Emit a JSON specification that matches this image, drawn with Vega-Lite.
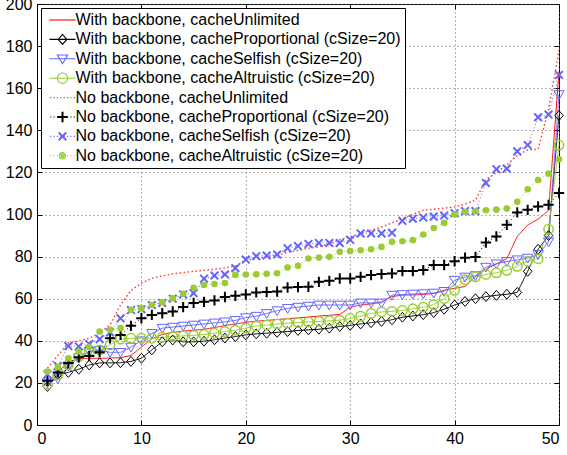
{
"$schema":"https://vega.github.io/schema/vega-lite/v6.json",
"width":522,"height":421,
"autosize":{"type":"none"},
"padding":{"left":37,"top":4,"right":8,"bottom":30},
"background":"white",
"config":{
"view":{"stroke":"black","strokeWidth":1},
"axis":{"labelFont":"Liberation Sans","labelFontSize":16,"labelColor":"black","domainColor":"black","tickColor":"black","gridColor":"#666666","gridDash":[1,3],"gridOpacity":1,"tickSize":-5,"labelPadding":10,"title":null},
"legend":{"orient":"top-left","offset":4,"padding":4,"strokeColor":"black","fillColor":"white","labelFont":"Liberation Sans","labelFontSize":16,"labelColor":"black","labelLimit":600,"symbolSize":81,"symbolStrokeWidth":1.1,"symbolOffset":9.5,"labelOffset":5,"rowPadding":3.4}
},
"data":{"values":[
{"s":"With backbone, cacheUnlimited","x":1,"y":20},{"s":"With backbone, cacheUnlimited","x":2,"y":25},{"s":"With backbone, cacheUnlimited","x":3,"y":30},{"s":"With backbone, cacheUnlimited","x":4,"y":31.5},{"s":"With backbone, cacheUnlimited","x":5,"y":31.7},{"s":"With backbone, cacheUnlimited","x":6,"y":31.7},{"s":"With backbone, cacheUnlimited","x":7,"y":31.8},{"s":"With backbone, cacheUnlimited","x":8,"y":32},{"s":"With backbone, cacheUnlimited","x":9,"y":33},{"s":"With backbone, cacheUnlimited","x":10,"y":37},
{"s":"With backbone, cacheUnlimited","x":11,"y":41},{"s":"With backbone, cacheUnlimited","x":12,"y":43},{"s":"With backbone, cacheUnlimited","x":13,"y":44},{"s":"With backbone, cacheUnlimited","x":14,"y":44.6},{"s":"With backbone, cacheUnlimited","x":15,"y":45},{"s":"With backbone, cacheUnlimited","x":16,"y":45.5},{"s":"With backbone, cacheUnlimited","x":17,"y":46.3},{"s":"With backbone, cacheUnlimited","x":18,"y":47.2},{"s":"With backbone, cacheUnlimited","x":19,"y":48},{"s":"With backbone, cacheUnlimited","x":20,"y":48.8},
{"s":"With backbone, cacheUnlimited","x":21,"y":49.3},{"s":"With backbone, cacheUnlimited","x":22,"y":49.7},{"s":"With backbone, cacheUnlimited","x":23,"y":50.1},{"s":"With backbone, cacheUnlimited","x":24,"y":50.5},{"s":"With backbone, cacheUnlimited","x":25,"y":50.9},{"s":"With backbone, cacheUnlimited","x":26,"y":51.3},{"s":"With backbone, cacheUnlimited","x":27,"y":51.7},{"s":"With backbone, cacheUnlimited","x":28,"y":52.1},{"s":"With backbone, cacheUnlimited","x":29,"y":52.5},{"s":"With backbone, cacheUnlimited","x":30,"y":56},
{"s":"With backbone, cacheUnlimited","x":31,"y":57},{"s":"With backbone, cacheUnlimited","x":32,"y":57.5},{"s":"With backbone, cacheUnlimited","x":33,"y":58.5},{"s":"With backbone, cacheUnlimited","x":34,"y":61},{"s":"With backbone, cacheUnlimited","x":35,"y":61.7},{"s":"With backbone, cacheUnlimited","x":36,"y":61.8},{"s":"With backbone, cacheUnlimited","x":37,"y":62},{"s":"With backbone, cacheUnlimited","x":38,"y":62.5},{"s":"With backbone, cacheUnlimited","x":39,"y":64},{"s":"With backbone, cacheUnlimited","x":40,"y":65},
{"s":"With backbone, cacheUnlimited","x":41,"y":65.8},{"s":"With backbone, cacheUnlimited","x":42,"y":70.5},{"s":"With backbone, cacheUnlimited","x":43,"y":74},{"s":"With backbone, cacheUnlimited","x":44,"y":76.5},{"s":"With backbone, cacheUnlimited","x":45,"y":79},{"s":"With backbone, cacheUnlimited","x":46,"y":89.5},{"s":"With backbone, cacheUnlimited","x":47,"y":95},{"s":"With backbone, cacheUnlimited","x":48,"y":97.8},{"s":"With backbone, cacheUnlimited","x":49,"y":102},{"s":"With backbone, cacheUnlimited","x":50,"y":168},
{"s":"With backbone, cacheProportional (cSize=20)","x":1,"y":18.3},{"s":"With backbone, cacheProportional (cSize=20)","x":2,"y":24},{"s":"With backbone, cacheProportional (cSize=20)","x":3,"y":25},{"s":"With backbone, cacheProportional (cSize=20)","x":4,"y":26.5},{"s":"With backbone, cacheProportional (cSize=20)","x":5,"y":28.5},{"s":"With backbone, cacheProportional (cSize=20)","x":6,"y":29.5},{"s":"With backbone, cacheProportional (cSize=20)","x":7,"y":29.5},{"s":"With backbone, cacheProportional (cSize=20)","x":8,"y":29.6},{"s":"With backbone, cacheProportional (cSize=20)","x":9,"y":30.2},{"s":"With backbone, cacheProportional (cSize=20)","x":10,"y":31.7},
{"s":"With backbone, cacheProportional (cSize=20)","x":11,"y":35.7},{"s":"With backbone, cacheProportional (cSize=20)","x":12,"y":39.5},{"s":"With backbone, cacheProportional (cSize=20)","x":13,"y":40.4},{"s":"With backbone, cacheProportional (cSize=20)","x":14,"y":39.5},{"s":"With backbone, cacheProportional (cSize=20)","x":15,"y":39.5},{"s":"With backbone, cacheProportional (cSize=20)","x":16,"y":39.8},{"s":"With backbone, cacheProportional (cSize=20)","x":17,"y":40.5},{"s":"With backbone, cacheProportional (cSize=20)","x":18,"y":41.3},{"s":"With backbone, cacheProportional (cSize=20)","x":19,"y":42},{"s":"With backbone, cacheProportional (cSize=20)","x":20,"y":42.8},
{"s":"With backbone, cacheProportional (cSize=20)","x":21,"y":43.3},{"s":"With backbone, cacheProportional (cSize=20)","x":22,"y":43.6},{"s":"With backbone, cacheProportional (cSize=20)","x":23,"y":44},{"s":"With backbone, cacheProportional (cSize=20)","x":24,"y":44.4},{"s":"With backbone, cacheProportional (cSize=20)","x":25,"y":44.9},{"s":"With backbone, cacheProportional (cSize=20)","x":26,"y":45.2},{"s":"With backbone, cacheProportional (cSize=20)","x":27,"y":45.5},{"s":"With backbone, cacheProportional (cSize=20)","x":28,"y":46},{"s":"With backbone, cacheProportional (cSize=20)","x":29,"y":46.8},{"s":"With backbone, cacheProportional (cSize=20)","x":30,"y":47.3},
{"s":"With backbone, cacheProportional (cSize=20)","x":31,"y":48},{"s":"With backbone, cacheProportional (cSize=20)","x":32,"y":48.6},{"s":"With backbone, cacheProportional (cSize=20)","x":33,"y":49.2},{"s":"With backbone, cacheProportional (cSize=20)","x":34,"y":50},{"s":"With backbone, cacheProportional (cSize=20)","x":35,"y":51.2},{"s":"With backbone, cacheProportional (cSize=20)","x":36,"y":51.8},{"s":"With backbone, cacheProportional (cSize=20)","x":37,"y":52.4},{"s":"With backbone, cacheProportional (cSize=20)","x":38,"y":53.4},{"s":"With backbone, cacheProportional (cSize=20)","x":39,"y":55},{"s":"With backbone, cacheProportional (cSize=20)","x":40,"y":57},
{"s":"With backbone, cacheProportional (cSize=20)","x":41,"y":58.7},{"s":"With backbone, cacheProportional (cSize=20)","x":42,"y":60},{"s":"With backbone, cacheProportional (cSize=20)","x":43,"y":61},{"s":"With backbone, cacheProportional (cSize=20)","x":44,"y":61.6},{"s":"With backbone, cacheProportional (cSize=20)","x":45,"y":62.1},{"s":"With backbone, cacheProportional (cSize=20)","x":46,"y":63},{"s":"With backbone, cacheProportional (cSize=20)","x":47,"y":73},{"s":"With backbone, cacheProportional (cSize=20)","x":48,"y":83.5},{"s":"With backbone, cacheProportional (cSize=20)","x":49,"y":90},{"s":"With backbone, cacheProportional (cSize=20)","x":50,"y":147},
{"s":"With backbone, cacheSelfish (cSize=20)","x":1,"y":20},{"s":"With backbone, cacheSelfish (cSize=20)","x":2,"y":22},{"s":"With backbone, cacheSelfish (cSize=20)","x":3,"y":28},{"s":"With backbone, cacheSelfish (cSize=20)","x":4,"y":32},{"s":"With backbone, cacheSelfish (cSize=20)","x":5,"y":35},{"s":"With backbone, cacheSelfish (cSize=20)","x":6,"y":35.5},{"s":"With backbone, cacheSelfish (cSize=20)","x":7,"y":34.5},{"s":"With backbone, cacheSelfish (cSize=20)","x":8,"y":34.5},{"s":"With backbone, cacheSelfish (cSize=20)","x":9,"y":37},{"s":"With backbone, cacheSelfish (cSize=20)","x":10,"y":40},
{"s":"With backbone, cacheSelfish (cSize=20)","x":11,"y":43.5},{"s":"With backbone, cacheSelfish (cSize=20)","x":12,"y":46},{"s":"With backbone, cacheSelfish (cSize=20)","x":13,"y":46.5},{"s":"With backbone, cacheSelfish (cSize=20)","x":14,"y":47},{"s":"With backbone, cacheSelfish (cSize=20)","x":15,"y":47.5},{"s":"With backbone, cacheSelfish (cSize=20)","x":16,"y":48},{"s":"With backbone, cacheSelfish (cSize=20)","x":17,"y":48.5},{"s":"With backbone, cacheSelfish (cSize=20)","x":18,"y":49},{"s":"With backbone, cacheSelfish (cSize=20)","x":19,"y":49.7},{"s":"With backbone, cacheSelfish (cSize=20)","x":20,"y":51},
{"s":"With backbone, cacheSelfish (cSize=20)","x":21,"y":51.7},{"s":"With backbone, cacheSelfish (cSize=20)","x":22,"y":53},{"s":"With backbone, cacheSelfish (cSize=20)","x":23,"y":54.3},{"s":"With backbone, cacheSelfish (cSize=20)","x":24,"y":55.4},{"s":"With backbone, cacheSelfish (cSize=20)","x":25,"y":56},{"s":"With backbone, cacheSelfish (cSize=20)","x":26,"y":56.5},{"s":"With backbone, cacheSelfish (cSize=20)","x":27,"y":57},{"s":"With backbone, cacheSelfish (cSize=20)","x":28,"y":57},{"s":"With backbone, cacheSelfish (cSize=20)","x":29,"y":57},{"s":"With backbone, cacheSelfish (cSize=20)","x":30,"y":57},
{"s":"With backbone, cacheSelfish (cSize=20)","x":31,"y":58},{"s":"With backbone, cacheSelfish (cSize=20)","x":32,"y":58},{"s":"With backbone, cacheSelfish (cSize=20)","x":33,"y":58},{"s":"With backbone, cacheSelfish (cSize=20)","x":34,"y":61.7},{"s":"With backbone, cacheSelfish (cSize=20)","x":35,"y":62},{"s":"With backbone, cacheSelfish (cSize=20)","x":36,"y":62.2},{"s":"With backbone, cacheSelfish (cSize=20)","x":37,"y":62.4},{"s":"With backbone, cacheSelfish (cSize=20)","x":38,"y":62.7},{"s":"With backbone, cacheSelfish (cSize=20)","x":39,"y":63.5},{"s":"With backbone, cacheSelfish (cSize=20)","x":40,"y":68.8},
{"s":"With backbone, cacheSelfish (cSize=20)","x":41,"y":70.3},{"s":"With backbone, cacheSelfish (cSize=20)","x":42,"y":71},{"s":"With backbone, cacheSelfish (cSize=20)","x":43,"y":75},{"s":"With backbone, cacheSelfish (cSize=20)","x":44,"y":76.6},{"s":"With backbone, cacheSelfish (cSize=20)","x":45,"y":77.7},{"s":"With backbone, cacheSelfish (cSize=20)","x":46,"y":78.5},{"s":"With backbone, cacheSelfish (cSize=20)","x":47,"y":79.3},{"s":"With backbone, cacheSelfish (cSize=20)","x":48,"y":81},{"s":"With backbone, cacheSelfish (cSize=20)","x":49,"y":87},{"s":"With backbone, cacheSelfish (cSize=20)","x":50,"y":157},
{"s":"With backbone, cacheAltruistic (cSize=20)","x":1,"y":19.4},{"s":"With backbone, cacheAltruistic (cSize=20)","x":2,"y":23.8},{"s":"With backbone, cacheAltruistic (cSize=20)","x":3,"y":28.6},{"s":"With backbone, cacheAltruistic (cSize=20)","x":4,"y":32.5},{"s":"With backbone, cacheAltruistic (cSize=20)","x":5,"y":34.9},{"s":"With backbone, cacheAltruistic (cSize=20)","x":6,"y":35.7},{"s":"With backbone, cacheAltruistic (cSize=20)","x":7,"y":38},{"s":"With backbone, cacheAltruistic (cSize=20)","x":8,"y":40.8},{"s":"With backbone, cacheAltruistic (cSize=20)","x":9,"y":41.2},{"s":"With backbone, cacheAltruistic (cSize=20)","x":10,"y":41.2},
{"s":"With backbone, cacheAltruistic (cSize=20)","x":11,"y":41.2},{"s":"With backbone, cacheAltruistic (cSize=20)","x":12,"y":41.7},{"s":"With backbone, cacheAltruistic (cSize=20)","x":13,"y":42},{"s":"With backbone, cacheAltruistic (cSize=20)","x":14,"y":42.3},{"s":"With backbone, cacheAltruistic (cSize=20)","x":15,"y":42.6},{"s":"With backbone, cacheAltruistic (cSize=20)","x":16,"y":43},{"s":"With backbone, cacheAltruistic (cSize=20)","x":17,"y":43.6},{"s":"With backbone, cacheAltruistic (cSize=20)","x":18,"y":44.4},{"s":"With backbone, cacheAltruistic (cSize=20)","x":19,"y":45},{"s":"With backbone, cacheAltruistic (cSize=20)","x":20,"y":46},
{"s":"With backbone, cacheAltruistic (cSize=20)","x":21,"y":47},{"s":"With backbone, cacheAltruistic (cSize=20)","x":22,"y":47.5},{"s":"With backbone, cacheAltruistic (cSize=20)","x":23,"y":48},{"s":"With backbone, cacheAltruistic (cSize=20)","x":24,"y":48.4},{"s":"With backbone, cacheAltruistic (cSize=20)","x":25,"y":48.7},{"s":"With backbone, cacheAltruistic (cSize=20)","x":26,"y":49},{"s":"With backbone, cacheAltruistic (cSize=20)","x":27,"y":49.2},{"s":"With backbone, cacheAltruistic (cSize=20)","x":28,"y":49.5},{"s":"With backbone, cacheAltruistic (cSize=20)","x":29,"y":49.8},{"s":"With backbone, cacheAltruistic (cSize=20)","x":30,"y":50.6},
{"s":"With backbone, cacheAltruistic (cSize=20)","x":31,"y":51.7},{"s":"With backbone, cacheAltruistic (cSize=20)","x":32,"y":53},{"s":"With backbone, cacheAltruistic (cSize=20)","x":33,"y":53.7},{"s":"With backbone, cacheAltruistic (cSize=20)","x":34,"y":54},{"s":"With backbone, cacheAltruistic (cSize=20)","x":35,"y":54.4},{"s":"With backbone, cacheAltruistic (cSize=20)","x":36,"y":55.2},{"s":"With backbone, cacheAltruistic (cSize=20)","x":37,"y":56},{"s":"With backbone, cacheAltruistic (cSize=20)","x":38,"y":57.2},{"s":"With backbone, cacheAltruistic (cSize=20)","x":39,"y":60},{"s":"With backbone, cacheAltruistic (cSize=20)","x":40,"y":64},
{"s":"With backbone, cacheAltruistic (cSize=20)","x":41,"y":69},{"s":"With backbone, cacheAltruistic (cSize=20)","x":42,"y":70.4},{"s":"With backbone, cacheAltruistic (cSize=20)","x":43,"y":71.5},{"s":"With backbone, cacheAltruistic (cSize=20)","x":44,"y":72.3},{"s":"With backbone, cacheAltruistic (cSize=20)","x":45,"y":73.5},{"s":"With backbone, cacheAltruistic (cSize=20)","x":46,"y":75.4},{"s":"With backbone, cacheAltruistic (cSize=20)","x":47,"y":77.8},{"s":"With backbone, cacheAltruistic (cSize=20)","x":48,"y":79},{"s":"With backbone, cacheAltruistic (cSize=20)","x":49,"y":93},{"s":"With backbone, cacheAltruistic (cSize=20)","x":50,"y":133},
{"s":"No backbone, cacheUnlimited","x":1,"y":27},{"s":"No backbone, cacheUnlimited","x":2,"y":33},{"s":"No backbone, cacheUnlimited","x":3,"y":39},{"s":"No backbone, cacheUnlimited","x":4,"y":40},{"s":"No backbone, cacheUnlimited","x":5,"y":41.2},{"s":"No backbone, cacheUnlimited","x":6,"y":43.6},{"s":"No backbone, cacheUnlimited","x":7,"y":47.6},{"s":"No backbone, cacheUnlimited","x":8,"y":57},{"s":"No backbone, cacheUnlimited","x":9,"y":64},{"s":"No backbone, cacheUnlimited","x":10,"y":67.3},
{"s":"No backbone, cacheUnlimited","x":11,"y":69.7},{"s":"No backbone, cacheUnlimited","x":12,"y":70.8},{"s":"No backbone, cacheUnlimited","x":13,"y":71.8},{"s":"No backbone, cacheUnlimited","x":14,"y":72.4},{"s":"No backbone, cacheUnlimited","x":15,"y":73},{"s":"No backbone, cacheUnlimited","x":16,"y":73.5},{"s":"No backbone, cacheUnlimited","x":17,"y":74},{"s":"No backbone, cacheUnlimited","x":18,"y":74.6},{"s":"No backbone, cacheUnlimited","x":19,"y":75.5},{"s":"No backbone, cacheUnlimited","x":20,"y":78.3},
{"s":"No backbone, cacheUnlimited","x":21,"y":79},{"s":"No backbone, cacheUnlimited","x":22,"y":80},{"s":"No backbone, cacheUnlimited","x":23,"y":80.7},{"s":"No backbone, cacheUnlimited","x":24,"y":82},{"s":"No backbone, cacheUnlimited","x":25,"y":83},{"s":"No backbone, cacheUnlimited","x":26,"y":84},{"s":"No backbone, cacheUnlimited","x":27,"y":84.6},{"s":"No backbone, cacheUnlimited","x":28,"y":86.2},{"s":"No backbone, cacheUnlimited","x":29,"y":88},{"s":"No backbone, cacheUnlimited","x":30,"y":89.4},
{"s":"No backbone, cacheUnlimited","x":31,"y":91},{"s":"No backbone, cacheUnlimited","x":32,"y":92.5},{"s":"No backbone, cacheUnlimited","x":33,"y":94},{"s":"No backbone, cacheUnlimited","x":34,"y":96},{"s":"No backbone, cacheUnlimited","x":35,"y":98},{"s":"No backbone, cacheUnlimited","x":36,"y":100},{"s":"No backbone, cacheUnlimited","x":37,"y":102},{"s":"No backbone, cacheUnlimited","x":38,"y":102.5},{"s":"No backbone, cacheUnlimited","x":39,"y":103},{"s":"No backbone, cacheUnlimited","x":40,"y":103.6},
{"s":"No backbone, cacheUnlimited","x":41,"y":105},{"s":"No backbone, cacheUnlimited","x":42,"y":106.8},{"s":"No backbone, cacheUnlimited","x":43,"y":116.5},{"s":"No backbone, cacheUnlimited","x":44,"y":120},{"s":"No backbone, cacheUnlimited","x":45,"y":123.6},{"s":"No backbone, cacheUnlimited","x":46,"y":128},{"s":"No backbone, cacheUnlimited","x":47,"y":130.7},{"s":"No backbone, cacheUnlimited","x":48,"y":131},{"s":"No backbone, cacheUnlimited","x":49,"y":150},{"s":"No backbone, cacheUnlimited","x":50,"y":178},
{"s":"No backbone, cacheProportional (cSize=20)","x":1,"y":21},{"s":"No backbone, cacheProportional (cSize=20)","x":2,"y":25},{"s":"No backbone, cacheProportional (cSize=20)","x":3,"y":29.4},{"s":"No backbone, cacheProportional (cSize=20)","x":4,"y":32.2},{"s":"No backbone, cacheProportional (cSize=20)","x":5,"y":32.8},{"s":"No backbone, cacheProportional (cSize=20)","x":6,"y":34.6},{"s":"No backbone, cacheProportional (cSize=20)","x":7,"y":41.2},{"s":"No backbone, cacheProportional (cSize=20)","x":8,"y":42.8},{"s":"No backbone, cacheProportional (cSize=20)","x":9,"y":47.1},{"s":"No backbone, cacheProportional (cSize=20)","x":10,"y":50.7},
{"s":"No backbone, cacheProportional (cSize=20)","x":11,"y":52.3},{"s":"No backbone, cacheProportional (cSize=20)","x":12,"y":53.1},{"s":"No backbone, cacheProportional (cSize=20)","x":13,"y":53.9},{"s":"No backbone, cacheProportional (cSize=20)","x":14,"y":56},{"s":"No backbone, cacheProportional (cSize=20)","x":15,"y":58},{"s":"No backbone, cacheProportional (cSize=20)","x":16,"y":58.5},{"s":"No backbone, cacheProportional (cSize=20)","x":17,"y":59.2},{"s":"No backbone, cacheProportional (cSize=20)","x":18,"y":60.8},{"s":"No backbone, cacheProportional (cSize=20)","x":19,"y":61.4},{"s":"No backbone, cacheProportional (cSize=20)","x":20,"y":62},
{"s":"No backbone, cacheProportional (cSize=20)","x":21,"y":63},{"s":"No backbone, cacheProportional (cSize=20)","x":22,"y":63.2},{"s":"No backbone, cacheProportional (cSize=20)","x":23,"y":63.4},{"s":"No backbone, cacheProportional (cSize=20)","x":24,"y":65.3},{"s":"No backbone, cacheProportional (cSize=20)","x":25,"y":65.5},{"s":"No backbone, cacheProportional (cSize=20)","x":26,"y":65.7},{"s":"No backbone, cacheProportional (cSize=20)","x":27,"y":68},{"s":"No backbone, cacheProportional (cSize=20)","x":28,"y":68.5},{"s":"No backbone, cacheProportional (cSize=20)","x":29,"y":69.6},{"s":"No backbone, cacheProportional (cSize=20)","x":30,"y":69.6},
{"s":"No backbone, cacheProportional (cSize=20)","x":31,"y":70.4},{"s":"No backbone, cacheProportional (cSize=20)","x":32,"y":71.2},{"s":"No backbone, cacheProportional (cSize=20)","x":33,"y":71.7},{"s":"No backbone, cacheProportional (cSize=20)","x":34,"y":72},{"s":"No backbone, cacheProportional (cSize=20)","x":35,"y":73.1},{"s":"No backbone, cacheProportional (cSize=20)","x":36,"y":73.1},{"s":"No backbone, cacheProportional (cSize=20)","x":37,"y":73.6},{"s":"No backbone, cacheProportional (cSize=20)","x":38,"y":76},{"s":"No backbone, cacheProportional (cSize=20)","x":39,"y":76},{"s":"No backbone, cacheProportional (cSize=20)","x":40,"y":77.8},
{"s":"No backbone, cacheProportional (cSize=20)","x":41,"y":79.5},{"s":"No backbone, cacheProportional (cSize=20)","x":42,"y":79.8},{"s":"No backbone, cacheProportional (cSize=20)","x":43,"y":86.7},{"s":"No backbone, cacheProportional (cSize=20)","x":44,"y":89.6},{"s":"No backbone, cacheProportional (cSize=20)","x":45,"y":95.1},{"s":"No backbone, cacheProportional (cSize=20)","x":46,"y":101},{"s":"No backbone, cacheProportional (cSize=20)","x":47,"y":102.2},{"s":"No backbone, cacheProportional (cSize=20)","x":48,"y":103.8},{"s":"No backbone, cacheProportional (cSize=20)","x":49,"y":104.6},{"s":"No backbone, cacheProportional (cSize=20)","x":50,"y":110.2},
{"s":"No backbone, cacheSelfish (cSize=20)","x":1,"y":24},{"s":"No backbone, cacheSelfish (cSize=20)","x":2,"y":28},{"s":"No backbone, cacheSelfish (cSize=20)","x":3,"y":37.5},{"s":"No backbone, cacheSelfish (cSize=20)","x":4,"y":37.3},{"s":"No backbone, cacheSelfish (cSize=20)","x":5,"y":38.5},{"s":"No backbone, cacheSelfish (cSize=20)","x":6,"y":40.8},{"s":"No backbone, cacheSelfish (cSize=20)","x":7,"y":44},{"s":"No backbone, cacheSelfish (cSize=20)","x":8,"y":50.7},{"s":"No backbone, cacheSelfish (cSize=20)","x":9,"y":54.6},{"s":"No backbone, cacheSelfish (cSize=20)","x":10,"y":55},
{"s":"No backbone, cacheSelfish (cSize=20)","x":11,"y":57},{"s":"No backbone, cacheSelfish (cSize=20)","x":12,"y":58},{"s":"No backbone, cacheSelfish (cSize=20)","x":13,"y":60},{"s":"No backbone, cacheSelfish (cSize=20)","x":14,"y":62},{"s":"No backbone, cacheSelfish (cSize=20)","x":15,"y":62.6},{"s":"No backbone, cacheSelfish (cSize=20)","x":16,"y":69.5},{"s":"No backbone, cacheSelfish (cSize=20)","x":17,"y":71},{"s":"No backbone, cacheSelfish (cSize=20)","x":18,"y":71.5},{"s":"No backbone, cacheSelfish (cSize=20)","x":19,"y":74.5},{"s":"No backbone, cacheSelfish (cSize=20)","x":20,"y":78.6},
{"s":"No backbone, cacheSelfish (cSize=20)","x":21,"y":80.2},{"s":"No backbone, cacheSelfish (cSize=20)","x":22,"y":80.5},{"s":"No backbone, cacheSelfish (cSize=20)","x":23,"y":81},{"s":"No backbone, cacheSelfish (cSize=20)","x":24,"y":84},{"s":"No backbone, cacheSelfish (cSize=20)","x":25,"y":85},{"s":"No backbone, cacheSelfish (cSize=20)","x":26,"y":86},{"s":"No backbone, cacheSelfish (cSize=20)","x":27,"y":86.5},{"s":"No backbone, cacheSelfish (cSize=20)","x":28,"y":86.5},{"s":"No backbone, cacheSelfish (cSize=20)","x":29,"y":86.5},{"s":"No backbone, cacheSelfish (cSize=20)","x":30,"y":88},
{"s":"No backbone, cacheSelfish (cSize=20)","x":31,"y":91},{"s":"No backbone, cacheSelfish (cSize=20)","x":32,"y":91},{"s":"No backbone, cacheSelfish (cSize=20)","x":33,"y":91},{"s":"No backbone, cacheSelfish (cSize=20)","x":34,"y":91.3},{"s":"No backbone, cacheSelfish (cSize=20)","x":35,"y":97},{"s":"No backbone, cacheSelfish (cSize=20)","x":36,"y":98},{"s":"No backbone, cacheSelfish (cSize=20)","x":37,"y":98.6},{"s":"No backbone, cacheSelfish (cSize=20)","x":38,"y":99},{"s":"No backbone, cacheSelfish (cSize=20)","x":39,"y":99.5},{"s":"No backbone, cacheSelfish (cSize=20)","x":40,"y":100.6},
{"s":"No backbone, cacheSelfish (cSize=20)","x":41,"y":101.6},{"s":"No backbone, cacheSelfish (cSize=20)","x":42,"y":101.6},{"s":"No backbone, cacheSelfish (cSize=20)","x":43,"y":115},{"s":"No backbone, cacheSelfish (cSize=20)","x":44,"y":121.5},{"s":"No backbone, cacheSelfish (cSize=20)","x":45,"y":121.8},{"s":"No backbone, cacheSelfish (cSize=20)","x":46,"y":130},{"s":"No backbone, cacheSelfish (cSize=20)","x":47,"y":133},{"s":"No backbone, cacheSelfish (cSize=20)","x":48,"y":146.2},{"s":"No backbone, cacheSelfish (cSize=20)","x":49,"y":147.5},{"s":"No backbone, cacheSelfish (cSize=20)","x":50,"y":166.3},
{"s":"No backbone, cacheAltruistic (cSize=20)","x":1,"y":25.4},{"s":"No backbone, cacheAltruistic (cSize=20)","x":2,"y":27.5},{"s":"No backbone, cacheAltruistic (cSize=20)","x":3,"y":31.7},{"s":"No backbone, cacheAltruistic (cSize=20)","x":4,"y":34.9},{"s":"No backbone, cacheAltruistic (cSize=20)","x":5,"y":37},{"s":"No backbone, cacheAltruistic (cSize=20)","x":6,"y":44.4},{"s":"No backbone, cacheAltruistic (cSize=20)","x":7,"y":45.2},{"s":"No backbone, cacheAltruistic (cSize=20)","x":8,"y":46},{"s":"No backbone, cacheAltruistic (cSize=20)","x":9,"y":54.7},{"s":"No backbone, cacheAltruistic (cSize=20)","x":10,"y":55.5},
{"s":"No backbone, cacheAltruistic (cSize=20)","x":11,"y":57},{"s":"No backbone, cacheAltruistic (cSize=20)","x":12,"y":58.3},{"s":"No backbone, cacheAltruistic (cSize=20)","x":13,"y":60.2},{"s":"No backbone, cacheAltruistic (cSize=20)","x":14,"y":62.3},{"s":"No backbone, cacheAltruistic (cSize=20)","x":15,"y":65.2},{"s":"No backbone, cacheAltruistic (cSize=20)","x":16,"y":66.5},{"s":"No backbone, cacheAltruistic (cSize=20)","x":17,"y":67},{"s":"No backbone, cacheAltruistic (cSize=20)","x":18,"y":67.4},{"s":"No backbone, cacheAltruistic (cSize=20)","x":19,"y":71.3},{"s":"No backbone, cacheAltruistic (cSize=20)","x":20,"y":71.5},
{"s":"No backbone, cacheAltruistic (cSize=20)","x":21,"y":71.6},{"s":"No backbone, cacheAltruistic (cSize=20)","x":22,"y":71.8},{"s":"No backbone, cacheAltruistic (cSize=20)","x":23,"y":72.1},{"s":"No backbone, cacheAltruistic (cSize=20)","x":24,"y":74.8},{"s":"No backbone, cacheAltruistic (cSize=20)","x":25,"y":75.6},{"s":"No backbone, cacheAltruistic (cSize=20)","x":26,"y":79.1},{"s":"No backbone, cacheAltruistic (cSize=20)","x":27,"y":79.6},{"s":"No backbone, cacheAltruistic (cSize=20)","x":28,"y":79.9},{"s":"No backbone, cacheAltruistic (cSize=20)","x":29,"y":82.3},{"s":"No backbone, cacheAltruistic (cSize=20)","x":30,"y":82.6},
{"s":"No backbone, cacheAltruistic (cSize=20)","x":31,"y":83},{"s":"No backbone, cacheAltruistic (cSize=20)","x":32,"y":83.5},{"s":"No backbone, cacheAltruistic (cSize=20)","x":33,"y":84.6},{"s":"No backbone, cacheAltruistic (cSize=20)","x":34,"y":87},{"s":"No backbone, cacheAltruistic (cSize=20)","x":35,"y":87.3},{"s":"No backbone, cacheAltruistic (cSize=20)","x":36,"y":87.8},{"s":"No backbone, cacheAltruistic (cSize=20)","x":37,"y":90.5},{"s":"No backbone, cacheAltruistic (cSize=20)","x":38,"y":93.6},{"s":"No backbone, cacheAltruistic (cSize=20)","x":39,"y":96},{"s":"No backbone, cacheAltruistic (cSize=20)","x":40,"y":100},
{"s":"No backbone, cacheAltruistic (cSize=20)","x":41,"y":101.3},{"s":"No backbone, cacheAltruistic (cSize=20)","x":42,"y":101.5},{"s":"No backbone, cacheAltruistic (cSize=20)","x":43,"y":102},{"s":"No backbone, cacheAltruistic (cSize=20)","x":44,"y":102.3},{"s":"No backbone, cacheAltruistic (cSize=20)","x":45,"y":102.8},{"s":"No backbone, cacheAltruistic (cSize=20)","x":46,"y":106},{"s":"No backbone, cacheAltruistic (cSize=20)","x":47,"y":112},{"s":"No backbone, cacheAltruistic (cSize=20)","x":48,"y":116.4},{"s":"No backbone, cacheAltruistic (cSize=20)","x":49,"y":119.4},{"s":"No backbone, cacheAltruistic (cSize=20)","x":50,"y":126.2}
]},
"encoding":{
"x":{"field":"x","type":"quantitative","scale":{"domain":[0,50],"nice":false,"zero":false},"axis":null},
"y":{"field":"y","type":"quantitative","scale":{"domain":[0,200],"nice":false},"axis":null}
},
"layer":[
{"mark":{"type":"line","clip":true},
"encoding":{
"x":{"field":"x","type":"quantitative","scale":{"domain":[0,50],"nice":false,"zero":false},"axis":{"values":[0,10,20,30,40,50],"grid":true,"orient":"bottom"}},
"y":{"field":"y","type":"quantitative","scale":{"domain":[0,200],"nice":false},"axis":{"values":[0,20,40,60,80,100,120,140,160,180,200],"grid":true,"orient":"left"}},
"stroke":{"field":"s","type":"nominal","scale":{"domain":["No backbone, cacheAltruistic (cSize=20)","No backbone, cacheProportional (cSize=20)","No backbone, cacheSelfish (cSize=20)","No backbone, cacheUnlimited","With backbone, cacheAltruistic (cSize=20)","With backbone, cacheProportional (cSize=20)","With backbone, cacheSelfish (cSize=20)","With backbone, cacheUnlimited"],"range":["#99cc33","#000000","#6464ff","#ff3333","#99cc33","#000000","#6464ff","#ff0000"]},"legend":null},
"strokeDash":{"field":"s","type":"nominal","scale":{"domain":["No backbone, cacheAltruistic (cSize=20)","No backbone, cacheProportional (cSize=20)","No backbone, cacheSelfish (cSize=20)","No backbone, cacheUnlimited","With backbone, cacheAltruistic (cSize=20)","With backbone, cacheProportional (cSize=20)","With backbone, cacheSelfish (cSize=20)","With backbone, cacheUnlimited"],"range":[[1,2.5],[1,2.5],[1,2.5],[1.5,2.5],[1,0],[1,0],[1,0],[1,0]]},"legend":null},
"strokeWidth":{"field":"s","type":"nominal","scale":{"type":"ordinal","domain":["No backbone, cacheAltruistic (cSize=20)","No backbone, cacheProportional (cSize=20)","No backbone, cacheSelfish (cSize=20)","No backbone, cacheUnlimited","With backbone, cacheAltruistic (cSize=20)","With backbone, cacheProportional (cSize=20)","With backbone, cacheSelfish (cSize=20)","With backbone, cacheUnlimited"],"range":[1,1,1,1.4,1,1,1,1]},"legend":null}
}},
{"transform":[{"filter":{"field":"s","equal":"With backbone, cacheProportional (cSize=20)"}}],
"mark":{"type":"point","filled":false,"opacity":1,"color":"#000000","strokeWidth":1,"size":81,"shape":"M0,-1.1L0.95,0L0,1.1L-0.95,0Z"},
"encoding":{
"x":{"field":"x","type":"quantitative","scale":{"domain":[0,50],"nice":false,"zero":false},"axis":{"values":[0,10,20,30,40,50],"orient":"top","labels":false,"grid":false,"domain":false}},
"y":{"field":"y","type":"quantitative","scale":{"domain":[0,200],"nice":false},"axis":{"values":[0,20,40,60,80,100,120,140,160,180,200],"orient":"right","labels":false,"grid":false,"domain":false}}
}},
{"transform":[{"filter":{"field":"s","equal":"With backbone, cacheSelfish (cSize=20)"}}],
"mark":{"type":"point","filled":false,"opacity":1,"color":"#6464ff","strokeWidth":1,"size":81,"shape":"M-1.15,-0.85L1.15,-0.85L0,1.1Z"}},
{"transform":[{"filter":{"field":"s","equal":"With backbone, cacheAltruistic (cSize=20)"}}],
"mark":{"type":"point","filled":false,"opacity":1,"color":"#99cc33","strokeWidth":1.5,"size":88,"shape":"circle"}},
{"transform":[{"filter":{"field":"s","equal":"No backbone, cacheProportional (cSize=20)"}}],
"mark":{"type":"point","filled":false,"opacity":1,"color":"#000000","strokeWidth":2,"size":81,"shape":"M-1.15,0L1.15,0M0,-1.15L0,1.15"}},
{"transform":[{"filter":{"field":"s","equal":"No backbone, cacheSelfish (cSize=20)"}}],
"mark":{"type":"point","filled":false,"opacity":1,"color":"#6464ff","strokeWidth":2,"size":81,"shape":"M-0.85,-0.85L0.85,0.85M-0.85,0.85L0.85,-0.85"}},
{"transform":[{"filter":{"field":"s","equal":"No backbone, cacheAltruistic (cSize=20)"}}],
"mark":{"type":"point","filled":true,"opacity":1,"color":"#99cc33","size":44,"shape":"circle"}},
{"transform":[{"filter":"false"}],
"mark":{"type":"point","filled":false,"opacity":1,"size":81,"strokeWidth":1.1},
"encoding":{
"color":{"field":"s","type":"nominal","scale":{"domain":["With backbone, cacheUnlimited","With backbone, cacheProportional (cSize=20)","With backbone, cacheSelfish (cSize=20)","With backbone, cacheAltruistic (cSize=20)","No backbone, cacheUnlimited","No backbone, cacheProportional (cSize=20)","No backbone, cacheSelfish (cSize=20)","No backbone, cacheAltruistic (cSize=20)"],"range":["#ff0000","#000000","#6464ff","#99cc33","#ff3333","#000000","#6464ff","#99cc33"]},"legend":{"title":null}},
"shape":{"field":"s","type":"nominal","scale":{"domain":["With backbone, cacheUnlimited","With backbone, cacheProportional (cSize=20)","With backbone, cacheSelfish (cSize=20)","With backbone, cacheAltruistic (cSize=20)","No backbone, cacheUnlimited","No backbone, cacheProportional (cSize=20)","No backbone, cacheSelfish (cSize=20)","No backbone, cacheAltruistic (cSize=20)"],"range":[
"M-2.9,0L2.9,0",
"M-2.9,0L2.9,0M0,-1.1L0.95,0L0,1.1L-0.95,0Z",
"M-2.9,0L2.9,0M-1.15,-0.85L1.15,-0.85L0,1.1Z",
"M-2.9,0L2.9,0M1.15,0C1.15,0.635,0.635,1.15,0,1.15C-0.635,1.15,-1.15,0.635,-1.15,0C-1.15,-0.635,-0.635,-1.15,0,-1.15C0.635,-1.15,1.15,-0.635,1.15,0Z",
"M-2.75,0L-2.5,0M-2,0L-1.75,0M-1.25,0L-1,0M-0.5,0L-0.25,0M0.25,0L0.5,0M1,0L1.25,0M1.75,0L2,0M2.5,0L2.75,0",
"M-2.75,0L-2.5,0M-2,0L-1.75,0M-1.25,0L-1,0M-0.5,0L-0.25,0M0.25,0L0.5,0M1,0L1.25,0M1.75,0L2,0M2.5,0L2.75,0M-1.15,0.1L1.15,0.1M-1.15,-0.1L1.15,-0.1M0.1,-1.15L0.1,1.15M-0.1,-1.15L-0.1,1.15",
"M-2.75,0L-2.5,0M-2,0L-1.75,0M-1.25,0L-1,0M-0.5,0L-0.25,0M0.25,0L0.5,0M1,0L1.25,0M1.75,0L2,0M2.5,0L2.75,0M-0.78,-0.92L0.92,0.78M-0.92,-0.78L0.78,0.92M-0.92,0.78L0.78,-0.92M-0.78,0.92L0.92,-0.78",
"M-2.75,0L-2.5,0M-2,0L-1.75,0M-1.25,0L-1,0M-0.5,0L-0.25,0M0.25,0L0.5,0M1,0L1.25,0M1.75,0L2,0M2.5,0L2.75,0M0.7,0C0.7,0.387,0.387,0.7,0,0.7C-0.387,0.7,-0.7,0.387,-0.7,0C-0.7,-0.387,-0.387,-0.7,0,-0.7C0.387,-0.7,0.7,-0.387,0.7,0ZM0.4,0C0.4,0.221,0.221,0.4,0,0.4C-0.221,0.4,-0.4,0.221,-0.4,0C-0.4,-0.221,-0.221,-0.4,0,-0.4C0.221,-0.4,0.4,-0.221,0.4,0ZM0.12,0C0.12,0.066,0.066,0.12,0,0.12C-0.066,0.12,-0.12,0.066,-0.12,0C-0.12,-0.066,-0.066,-0.12,0,-0.12C0.066,-0.12,0.12,-0.066,0.12,0Z"
]},"legend":{"title":null}}
}}
],
"resolve":{"axis":{"x":"independent","y":"independent"}}
}
